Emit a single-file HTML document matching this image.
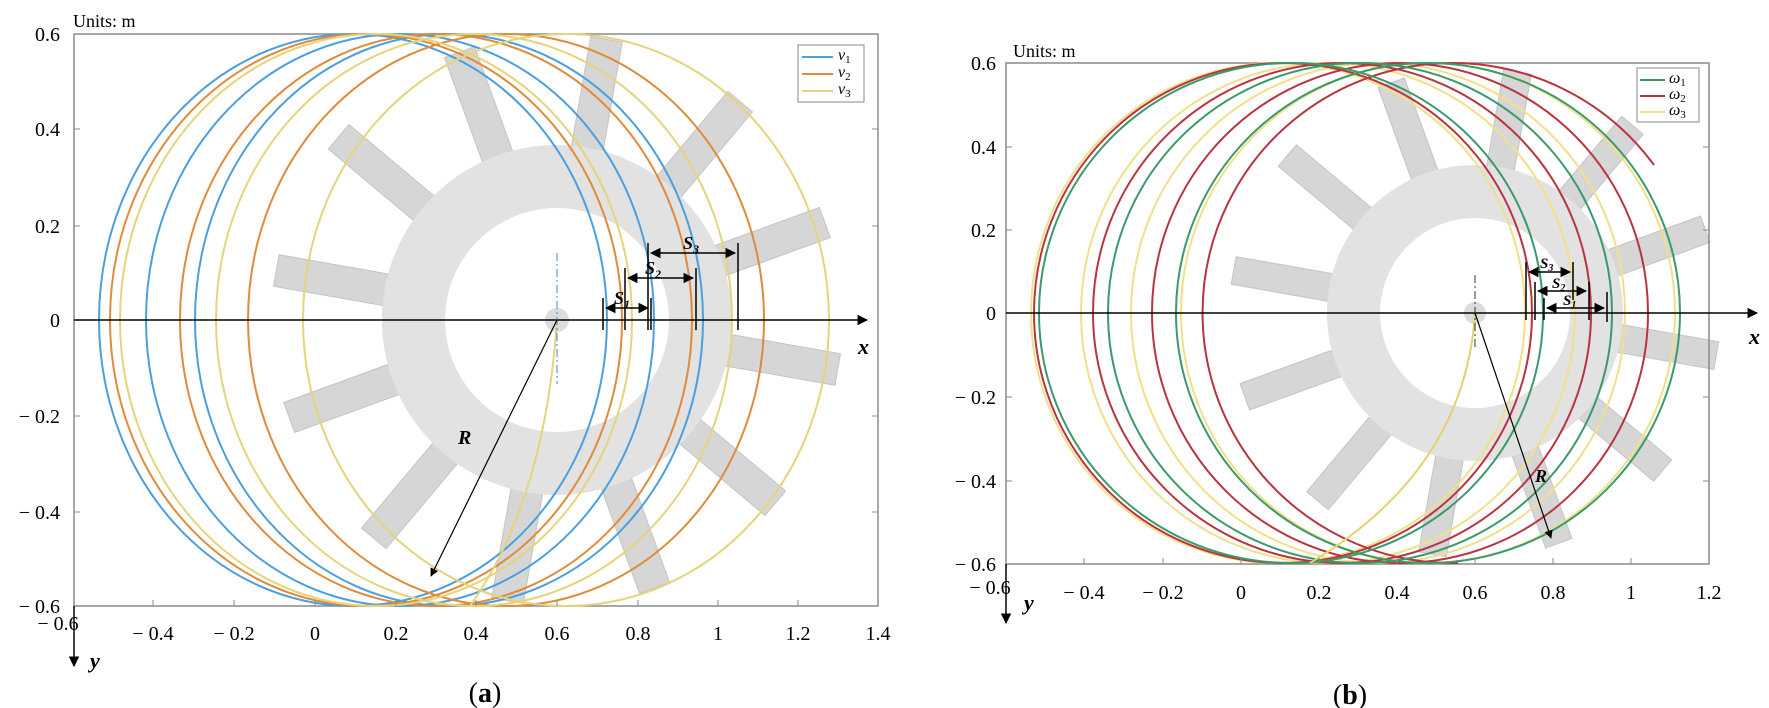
<!DOCTYPE html>
<html><head><meta charset="utf-8"><style>
html,body{margin:0;padding:0;background:#fff;}
svg{display:block;font-family:"Liberation Serif",serif;}
</style></head><body>
<svg width="1769" height="708" viewBox="0 0 1769 708" xmlns="http://www.w3.org/2000/svg">
<defs>
<marker id="ar" viewBox="0 0 10 10" refX="9" refY="5" markerWidth="7" markerHeight="7" orient="auto-start-reverse"><path d="M0,0L10,5L0,10z" fill="#000"/></marker>
</defs>
<!-- ============ PANEL A ============ -->
<g>
 <!-- rotor -->
 <g fill="#d6d6d6" stroke="#c4c4c4" stroke-width="1">
  <g transform="translate(557,320)">
   <g id="bladesA">
    <rect x="150" y="-16" width="135" height="32" transform="rotate(-80)"/>
    <rect x="150" y="-16" width="135" height="32" transform="rotate(-50)"/>
    <rect x="150" y="-16" width="135" height="32" transform="rotate(-20)"/>
    <rect x="150" y="-16" width="135" height="32" transform="rotate(10)"/>
    <rect x="150" y="-16" width="135" height="32" transform="rotate(40)"/>
    <rect x="150" y="-16" width="135" height="32" transform="rotate(70)"/>
    <rect x="150" y="-16" width="135" height="32" transform="rotate(100)"/>
    <rect x="150" y="-16" width="135" height="32" transform="rotate(130)"/>
    <rect x="150" y="-16" width="135" height="32" transform="rotate(160)"/>
    <rect x="150" y="-16" width="135" height="32" transform="rotate(190)"/>
    <rect x="150" y="-16" width="135" height="32" transform="rotate(220)"/>
    <rect x="150" y="-16" width="135" height="32" transform="rotate(250)"/>
   </g>
   <path d="M0,-175A175,175 0 1 1 -0.1,-175Z M0,-112A112,112 0 1 0 0.1,-112Z" fill="#e2e2e2" fill-rule="evenodd" stroke="none"/>
   <circle r="12" fill="#dcdcdc" stroke="none"/>
  </g>
 </g>
 <!-- frame -->
 <rect x="74" y="34" width="804" height="572" fill="none" stroke="#8a8a8a" stroke-width="1.5"/>
 <!-- ellipses -->
 <g fill="none" stroke-width="2">
  <ellipse cx="353" cy="320" rx="254" ry="286" stroke="#4a9fdc"/>
  <ellipse cx="400" cy="320" rx="254" ry="286" stroke="#4a9fdc"/>
  <ellipse cx="449" cy="320" rx="254" ry="286" stroke="#4a9fdc"/>
  <ellipse cx="366" cy="320" rx="256" ry="286" stroke="#e08a3a"/>
  <ellipse cx="436" cy="320" rx="256" ry="286" stroke="#e08a3a"/>
  <ellipse cx="506" cy="320" rx="258" ry="286" stroke="#e08a3a"/>
  <ellipse cx="376" cy="320" rx="256" ry="286" stroke="#e6d47a"/>
  <ellipse cx="474" cy="320" rx="258" ry="286" stroke="#e6d47a"/>
  <ellipse cx="566" cy="320" rx="263" ry="286" stroke="#e6d47a"/>
  <path d="M557,320 Q545,500 470,606" stroke="#e6d47a"/>
 </g>
 <!-- axes -->
 <line x1="74" y1="320" x2="867" y2="320" stroke="#000" stroke-width="1.5" marker-end="url(#ar)"/>
 <line x1="74" y1="606" x2="74" y2="666" stroke="#000" stroke-width="1.5" marker-end="url(#ar)"/>
 <line x1="557" y1="253" x2="557" y2="384" stroke="#4a7fc0" stroke-width="1" stroke-dasharray="8,3,2,3"/>
 <line x1="557" y1="320" x2="431" y2="576" stroke="#000" stroke-width="1.2" marker-end="url(#ar)"/>
 <text x="458" y="444" font-size="20" font-weight="bold" font-style="italic">R</text>
 <!-- S annotations -->
 <g stroke="#000" stroke-width="1.5">
  <line x1="603" y1="298" x2="603" y2="330"/><line x1="651" y1="298" x2="651" y2="330"/>
  <line x1="625" y1="268" x2="625" y2="330"/><line x1="696" y1="268" x2="696" y2="330"/>
  <line x1="648" y1="243" x2="648" y2="330"/><line x1="738" y1="243" x2="738" y2="330"/>
  <line x1="606" y1="308" x2="648" y2="308" marker-start="url(#ar)" marker-end="url(#ar)"/>
  <line x1="628" y1="278" x2="693" y2="278" marker-start="url(#ar)" marker-end="url(#ar)"/>
  <line x1="651" y1="253" x2="735" y2="253" marker-start="url(#ar)" marker-end="url(#ar)"/>
 </g>
 <g font-size="18" font-weight="bold" font-style="italic">
  <text x="614" y="304">S<tspan font-size="12" dy="4">1</tspan></text>
  <text x="645" y="274">S<tspan font-size="12" dy="4">2</tspan></text>
  <text x="683" y="249">S<tspan font-size="12" dy="4">3</tspan></text>
 </g>
 <!-- ticks -->
 <g stroke="#8a8a8a" stroke-width="1">
  <line x1="153" y1="606" x2="153" y2="600"/><line x1="234" y1="606" x2="234" y2="600"/><line x1="315" y1="606" x2="315" y2="600"/><line x1="396" y1="606" x2="396" y2="600"/><line x1="476" y1="606" x2="476" y2="600"/><line x1="557" y1="606" x2="557" y2="600"/><line x1="638" y1="606" x2="638" y2="600"/><line x1="718" y1="606" x2="718" y2="600"/><line x1="798" y1="606" x2="798" y2="600"/>
  <line x1="74" y1="129" x2="80" y2="129"/><line x1="74" y1="226" x2="80" y2="226"/><line x1="74" y1="416" x2="80" y2="416"/><line x1="74" y1="512" x2="80" y2="512"/>
  <line x1="878" y1="129" x2="872" y2="129"/><line x1="878" y1="226" x2="872" y2="226"/><line x1="878" y1="416" x2="872" y2="416"/><line x1="878" y1="512" x2="872" y2="512"/>
 </g>
 <g font-size="20" text-anchor="end">
  <text x="60" y="41">0.6</text><text x="60" y="136">0.4</text><text x="60" y="233">0.2</text><text x="60" y="327">0</text>
  <text x="60" y="423">− 0.2</text><text x="60" y="519">− 0.4</text><text x="60" y="613">− 0.6</text>
 </g>
 <g font-size="20" text-anchor="middle">
  <text x="58" y="630">− 0.6</text>
  <text x="153" y="640">− 0.4</text><text x="234" y="640">− 0.2</text><text x="315" y="640">0</text><text x="396" y="640">0.2</text><text x="476" y="640">0.4</text><text x="557" y="640">0.6</text><text x="638" y="640">0.8</text><text x="718" y="640">1</text><text x="798" y="640">1.2</text><text x="878" y="640">1.4</text>
 </g>
 <text x="73" y="27" font-size="18">Units: m</text>
 <text x="858" y="354" font-size="22" font-weight="bold" font-style="italic">x</text>
 <text x="90" y="668" font-size="22" font-weight="bold" font-style="italic">y</text>
 <text x="485" y="702" font-size="28" text-anchor="middle">(<tspan font-weight="bold">a</tspan>)</text>
 <!-- legend -->
 <rect x="798" y="45" width="66" height="57" fill="#fff" stroke="#888" stroke-width="1"/>
 <line x1="802" y1="57" x2="833" y2="57" stroke="#4a9fdc" stroke-width="2"/>
 <line x1="802" y1="74" x2="833" y2="74" stroke="#e08a3a" stroke-width="2"/>
 <line x1="802" y1="91" x2="833" y2="91" stroke="#e6d47a" stroke-width="2"/>
 <g font-size="16" font-style="italic"><text x="838" y="60">v<tspan font-size="11" dy="3" font-style="normal">1</tspan></text><text x="838" y="77">v<tspan font-size="11" dy="3" font-style="normal">2</tspan></text><text x="838" y="94">v<tspan font-size="11" dy="3" font-style="normal">3</tspan></text></g>
</g>

<!-- ============ PANEL B ============ -->
<g>
 <g fill="#d6d6d6" stroke="#c4c4c4" stroke-width="1">
  <g transform="translate(1475,313)">
    <rect x="125" y="-14" width="120" height="28" transform="rotate(-80)"/>
    <rect x="125" y="-14" width="120" height="28" transform="rotate(-50)"/>
    <rect x="125" y="-14" width="120" height="28" transform="rotate(-20)"/>
    <rect x="125" y="-14" width="120" height="28" transform="rotate(10)"/>
    <rect x="125" y="-14" width="120" height="28" transform="rotate(40)"/>
    <rect x="125" y="-14" width="120" height="28" transform="rotate(70)"/>
    <rect x="125" y="-14" width="120" height="28" transform="rotate(100)"/>
    <rect x="125" y="-14" width="120" height="28" transform="rotate(130)"/>
    <rect x="125" y="-14" width="120" height="28" transform="rotate(160)"/>
    <rect x="125" y="-14" width="120" height="28" transform="rotate(190)"/>
    <rect x="125" y="-14" width="120" height="28" transform="rotate(220)"/>
    <rect x="125" y="-14" width="120" height="28" transform="rotate(250)"/>
   <path d="M0,-148A148,148 0 1 1 -0.1,-148Z M0,-95A95,95 0 1 0 0.1,-95Z" fill="#e2e2e2" fill-rule="evenodd" stroke="none"/>
   <circle r="11" fill="#dcdcdc" stroke="none"/>
  </g>
 </g>
 <rect x="1006" y="63" width="703" height="501" fill="none" stroke="#8a8a8a" stroke-width="1.5"/>
 <g fill="none" stroke-width="2">
  <ellipse cx="1278" cy="313" rx="247" ry="250" stroke="#f0e08a"/>
  <ellipse cx="1328" cy="313" rx="247" ry="250" stroke="#f0e08a"/>
  <ellipse cx="1378" cy="313" rx="247" ry="250" stroke="#f0e08a"/>
  <ellipse cx="1428" cy="313" rx="247" ry="250" stroke="#f0e08a"/>
  <ellipse cx="1283" cy="313" rx="249" ry="250" stroke="#b8343f"/>
  <ellipse cx="1342" cy="313" rx="249" ry="250" stroke="#b8343f"/>
  <ellipse cx="1400" cy="313" rx="248" ry="250" stroke="#b8343f"/>
  <path d="M1458,563 A250,250 0 1 1 1654,165" stroke="#b8343f"/>
  <ellipse cx="1291" cy="313" rx="252" ry="250" stroke="#3a9a6a"/>
  <ellipse cx="1360" cy="313" rx="252" ry="250" stroke="#3a9a6a"/>
  <ellipse cx="1428" cy="313" rx="252" ry="250" stroke="#3a9a6a"/>
  <path d="M1475,313 Q1465,470 1310,563" stroke="#e8cf70"/>
 </g>
 <line x1="1006" y1="313" x2="1757" y2="313" stroke="#000" stroke-width="1.5" marker-end="url(#ar)"/>
 <line x1="1006" y1="564" x2="1006" y2="623" stroke="#000" stroke-width="1.5" marker-end="url(#ar)"/>
 <line x1="1475" y1="275" x2="1475" y2="348" stroke="#333" stroke-width="1" stroke-dasharray="8,3,2,3"/>
 <line x1="1475" y1="313" x2="1551" y2="538" stroke="#000" stroke-width="1.2" marker-end="url(#ar)"/>
 <text x="1535" y="482" font-size="18" font-weight="bold" font-style="italic">R</text>
 <g stroke="#000" stroke-width="1.5">
  <line x1="1526" y1="262" x2="1526" y2="320"/><line x1="1573" y1="262" x2="1573" y2="300"/>
  <line x1="1535" y1="282" x2="1535" y2="320"/><line x1="1589" y1="282" x2="1589" y2="320"/>
  <line x1="1544" y1="298" x2="1544" y2="320"/><line x1="1607" y1="292" x2="1607" y2="322"/>
  <line x1="1529" y1="272" x2="1570" y2="272" marker-start="url(#ar)" marker-end="url(#ar)"/>
  <line x1="1538" y1="291" x2="1586" y2="291" marker-start="url(#ar)" marker-end="url(#ar)"/>
  <line x1="1547" y1="308" x2="1604" y2="308" marker-start="url(#ar)" marker-end="url(#ar)"/>
 </g>
 <g font-size="15" font-weight="bold" font-style="italic">
  <text x="1540" y="268">S<tspan font-size="10" dy="3">3</tspan></text>
  <text x="1552" y="288">S<tspan font-size="10" dy="3">2</tspan></text>
  <text x="1563" y="305">S<tspan font-size="10" dy="3">1</tspan></text>
 </g>
 <g stroke="#8a8a8a" stroke-width="1">
  <line x1="1084" y1="564" x2="1084" y2="558"/><line x1="1163" y1="564" x2="1163" y2="558"/><line x1="1241" y1="564" x2="1241" y2="558"/><line x1="1319" y1="564" x2="1319" y2="558"/><line x1="1397" y1="564" x2="1397" y2="558"/><line x1="1475" y1="564" x2="1475" y2="558"/><line x1="1553" y1="564" x2="1553" y2="558"/><line x1="1631" y1="564" x2="1631" y2="558"/>
  <line x1="1006" y1="147" x2="1012" y2="147"/><line x1="1006" y1="230" x2="1012" y2="230"/><line x1="1006" y1="397" x2="1012" y2="397"/><line x1="1006" y1="481" x2="1012" y2="481"/>
  <line x1="1709" y1="147" x2="1703" y2="147"/><line x1="1709" y1="230" x2="1703" y2="230"/><line x1="1709" y1="397" x2="1703" y2="397"/><line x1="1709" y1="481" x2="1703" y2="481"/>
 </g>
 <g font-size="20" text-anchor="end">
  <text x="996" y="70">0.6</text><text x="996" y="154">0.4</text><text x="996" y="237">0.2</text><text x="996" y="320">0</text>
  <text x="996" y="404">− 0.2</text><text x="996" y="488">− 0.4</text><text x="996" y="571">− 0.6</text>
 </g>
 <g font-size="20" text-anchor="middle">
  <text x="990" y="594">− 0.6</text>
  <text x="1084" y="599">− 0.4</text><text x="1163" y="599">− 0.2</text><text x="1241" y="599">0</text><text x="1319" y="599">0.2</text><text x="1397" y="599">0.4</text><text x="1475" y="599">0.6</text><text x="1553" y="599">0.8</text><text x="1631" y="599">1</text><text x="1709" y="599">1.2</text>
 </g>
 <text x="1013" y="57" font-size="18">Units: m</text>
 <text x="1749" y="344" font-size="22" font-weight="bold" font-style="italic">x</text>
 <text x="1024" y="610" font-size="22" font-weight="bold" font-style="italic">y</text>
 <text x="1350" y="704" font-size="28" text-anchor="middle">(<tspan font-weight="bold">b</tspan>)</text>
 <rect x="1637" y="68" width="62" height="54" fill="#fff" stroke="#888" stroke-width="1"/>
 <line x1="1640" y1="80" x2="1665" y2="80" stroke="#3a9a6a" stroke-width="2"/>
 <line x1="1640" y1="96" x2="1665" y2="96" stroke="#b8343f" stroke-width="2"/>
 <line x1="1640" y1="112" x2="1665" y2="112" stroke="#f0e08a" stroke-width="2"/>
 <g font-size="16" font-style="italic"><text x="1669" y="83">ω<tspan font-size="11" dy="3" font-style="normal">1</tspan></text><text x="1669" y="99">ω<tspan font-size="11" dy="3" font-style="normal">2</tspan></text><text x="1669" y="115">ω<tspan font-size="11" dy="3" font-style="normal">3</tspan></text></g>
</g>
</svg>
</body></html>
